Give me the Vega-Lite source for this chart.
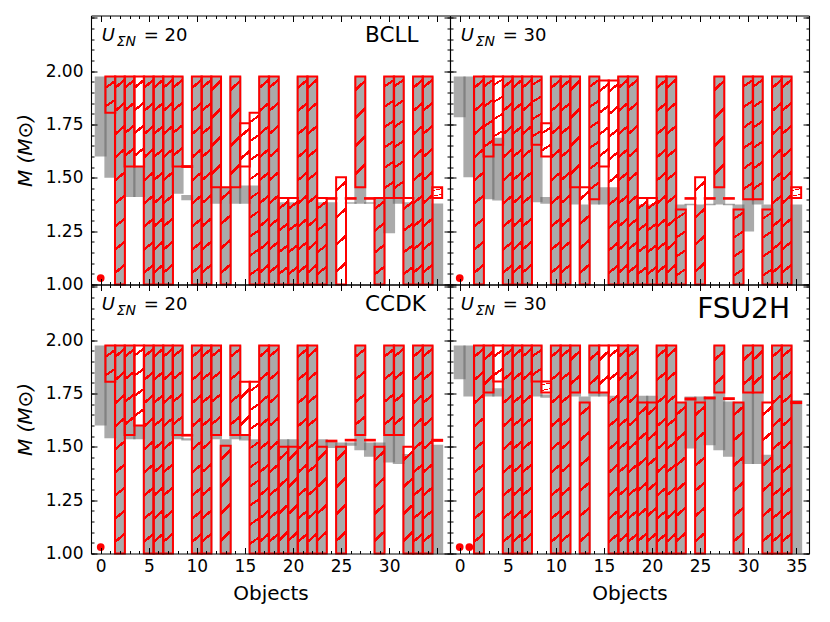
{
  "$schema": "https://vega.github.io/schema/vega-lite/v6.json",
  "padding": {"left": 15, "top": 14.5, "right": 10, "bottom": 5},
  "config": {
    "view": {"stroke": null},
    "axis": {"grid": false, "domainColor": "#000", "domainWidth": 1.1, "tickColor": "#000", "tickWidth": 1, "labelColor": "#000", "labelFont": "DejaVu Sans", "labelFontSize": 17, "titleColor": "#000", "titleFont": "DejaVu Sans", "titleFontSize": 20, "titleFontWeight": "normal"},
    "text": {"font": "DejaVu Sans", "color": "#000"}
  },
  "datasets": {
    "objects": [
      {"panel":"tl","obj":0,"glo":1.6,"ghi":1.975,"rlo":null,"rhi":null},
      {"panel":"tl","obj":1,"glo":1.5,"ghi":1.975,"rlo":1.805,"rhi":1.975},
      {"panel":"tl","obj":2,"glo":1.0,"ghi":1.975,"rlo":1.0,"rhi":1.975},
      {"panel":"tl","obj":3,"glo":1.41,"ghi":1.975,"rlo":1.553,"rhi":1.975},
      {"panel":"tl","obj":4,"glo":1.41,"ghi":1.553,"rlo":1.553,"rhi":1.975},
      {"panel":"tl","obj":5,"glo":1.0,"ghi":1.975,"rlo":1.0,"rhi":1.975},
      {"panel":"tl","obj":6,"glo":1.0,"ghi":1.975,"rlo":1.0,"rhi":1.975},
      {"panel":"tl","obj":7,"glo":1.0,"ghi":1.975,"rlo":1.0,"rhi":1.975},
      {"panel":"tl","obj":8,"glo":1.425,"ghi":1.975,"rlo":1.553,"rhi":1.975},
      {"panel":"tl","obj":9,"glo":1.395,"ghi":1.42,"rlo":1.551,"rhi":1.555},
      {"panel":"tl","obj":10,"glo":1.0,"ghi":1.975,"rlo":1.0,"rhi":1.975},
      {"panel":"tl","obj":11,"glo":1.0,"ghi":1.975,"rlo":1.0,"rhi":1.975},
      {"panel":"tl","obj":12,"glo":1.378,"ghi":1.975,"rlo":1.456,"rhi":1.975},
      {"panel":"tl","obj":13,"glo":1.0,"ghi":1.456,"rlo":1.0,"rhi":1.456},
      {"panel":"tl","obj":14,"glo":1.378,"ghi":1.975,"rlo":1.456,"rhi":1.975},
      {"panel":"tl","obj":15,"glo":1.378,"ghi":1.464,"rlo":1.553,"rhi":1.756},
      {"panel":"tl","obj":16,"glo":1.0,"ghi":1.464,"rlo":1.0,"rhi":1.805},
      {"panel":"tl","obj":17,"glo":1.0,"ghi":1.975,"rlo":1.0,"rhi":1.975},
      {"panel":"tl","obj":18,"glo":1.0,"ghi":1.975,"rlo":1.0,"rhi":1.975},
      {"panel":"tl","obj":19,"glo":1.0,"ghi":1.386,"rlo":1.0,"rhi":1.405},
      {"panel":"tl","obj":20,"glo":1.0,"ghi":1.386,"rlo":1.0,"rhi":1.405},
      {"panel":"tl","obj":21,"glo":1.0,"ghi":1.975,"rlo":1.0,"rhi":1.975},
      {"panel":"tl","obj":22,"glo":1.0,"ghi":1.975,"rlo":1.0,"rhi":1.975},
      {"panel":"tl","obj":23,"glo":1.0,"ghi":1.386,"rlo":1.0,"rhi":1.405},
      {"panel":"tl","obj":24,"glo":1.0,"ghi":1.386,"rlo":1.402,"rhi":1.405},
      {"panel":"tl","obj":25,"glo":null,"ghi":null,"rlo":1.0,"rhi":1.503},
      {"panel":"tl","obj":26,"glo":1.378,"ghi":1.386,"rlo":1.402,"rhi":1.405},
      {"panel":"tl","obj":27,"glo":1.378,"ghi":1.975,"rlo":1.456,"rhi":1.975},
      {"panel":"tl","obj":28,"glo":1.378,"ghi":1.386,"rlo":1.402,"rhi":1.405},
      {"panel":"tl","obj":29,"glo":1.0,"ghi":1.405,"rlo":1.0,"rhi":1.405},
      {"panel":"tl","obj":30,"glo":1.24,"ghi":1.975,"rlo":1.405,"rhi":1.975},
      {"panel":"tl","obj":31,"glo":1.378,"ghi":1.975,"rlo":1.405,"rhi":1.975},
      {"panel":"tl","obj":32,"glo":1.0,"ghi":1.386,"rlo":1.0,"rhi":1.405},
      {"panel":"tl","obj":33,"glo":1.0,"ghi":1.975,"rlo":1.0,"rhi":1.975},
      {"panel":"tl","obj":34,"glo":1.0,"ghi":1.975,"rlo":1.0,"rhi":1.975},
      {"panel":"tl","obj":35,"glo":1.0,"ghi":1.38,"rlo":1.405,"rhi":1.456},

      {"panel":"tr","obj":0,"glo":1.784,"ghi":1.975,"rlo":null,"rhi":null},
      {"panel":"tr","obj":1,"glo":1.503,"ghi":1.975,"rlo":null,"rhi":null},
      {"panel":"tr","obj":2,"glo":1.0,"ghi":1.975,"rlo":1.0,"rhi":1.975},
      {"panel":"tr","obj":3,"glo":1.4,"ghi":1.975,"rlo":1.6,"rhi":1.975},
      {"panel":"tr","obj":4,"glo":1.394,"ghi":1.688,"rlo":1.655,"rhi":1.975},
      {"panel":"tr","obj":5,"glo":1.0,"ghi":1.975,"rlo":1.0,"rhi":1.975},
      {"panel":"tr","obj":6,"glo":1.0,"ghi":1.975,"rlo":1.0,"rhi":1.975},
      {"panel":"tr","obj":7,"glo":1.0,"ghi":1.975,"rlo":1.0,"rhi":1.975},
      {"panel":"tr","obj":8,"glo":1.386,"ghi":1.975,"rlo":1.655,"rhi":1.975},
      {"panel":"tr","obj":9,"glo":1.378,"ghi":1.41,"rlo":1.6,"rhi":1.756},
      {"panel":"tr","obj":10,"glo":1.0,"ghi":1.975,"rlo":1.0,"rhi":1.975},
      {"panel":"tr","obj":11,"glo":1.0,"ghi":1.975,"rlo":1.0,"rhi":1.975},
      {"panel":"tr","obj":12,"glo":1.375,"ghi":1.975,"rlo":1.456,"rhi":1.975},
      {"panel":"tr","obj":13,"glo":1.0,"ghi":1.375,"rlo":1.0,"rhi":1.456},
      {"panel":"tr","obj":14,"glo":1.375,"ghi":1.975,"rlo":1.4,"rhi":1.975},
      {"panel":"tr","obj":15,"glo":1.375,"ghi":1.456,"rlo":1.553,"rhi":1.956},
      {"panel":"tr","obj":16,"glo":1.0,"ghi":1.456,"rlo":1.0,"rhi":1.956},
      {"panel":"tr","obj":17,"glo":1.0,"ghi":1.975,"rlo":1.0,"rhi":1.975},
      {"panel":"tr","obj":18,"glo":1.0,"ghi":1.975,"rlo":1.0,"rhi":1.975},
      {"panel":"tr","obj":19,"glo":1.0,"ghi":1.375,"rlo":1.0,"rhi":1.405},
      {"panel":"tr","obj":20,"glo":1.0,"ghi":1.375,"rlo":1.0,"rhi":1.405},
      {"panel":"tr","obj":21,"glo":1.0,"ghi":1.975,"rlo":1.0,"rhi":1.975},
      {"panel":"tr","obj":22,"glo":1.0,"ghi":1.975,"rlo":1.0,"rhi":1.975},
      {"panel":"tr","obj":23,"glo":1.0,"ghi":1.375,"rlo":1.0,"rhi":1.352},
      {"panel":"tr","obj":24,"glo":1.372,"ghi":1.378,"rlo":1.402,"rhi":1.405},
      {"panel":"tr","obj":25,"glo":1.0,"ghi":1.375,"rlo":1.0,"rhi":1.503},
      {"panel":"tr","obj":26,"glo":1.372,"ghi":1.378,"rlo":1.402,"rhi":1.405},
      {"panel":"tr","obj":27,"glo":1.375,"ghi":1.975,"rlo":1.456,"rhi":1.975},
      {"panel":"tr","obj":28,"glo":1.372,"ghi":1.378,"rlo":1.402,"rhi":1.405},
      {"panel":"tr","obj":29,"glo":1.0,"ghi":1.375,"rlo":1.0,"rhi":1.352},
      {"panel":"tr","obj":30,"glo":1.248,"ghi":1.975,"rlo":1.4,"rhi":1.975},
      {"panel":"tr","obj":31,"glo":1.375,"ghi":1.975,"rlo":1.4,"rhi":1.975},
      {"panel":"tr","obj":32,"glo":1.0,"ghi":1.375,"rlo":1.0,"rhi":1.352},
      {"panel":"tr","obj":33,"glo":1.0,"ghi":1.975,"rlo":1.0,"rhi":1.975},
      {"panel":"tr","obj":34,"glo":1.0,"ghi":1.975,"rlo":1.0,"rhi":1.975},
      {"panel":"tr","obj":35,"glo":1.0,"ghi":1.375,"rlo":1.405,"rhi":1.456},

      {"panel":"bl","obj":0,"glo":1.6,"ghi":1.975,"rlo":null,"rhi":null},
      {"panel":"bl","obj":1,"glo":1.54,"ghi":1.975,"rlo":1.805,"rhi":1.975},
      {"panel":"bl","obj":2,"glo":1.0,"ghi":1.975,"rlo":1.0,"rhi":1.975},
      {"panel":"bl","obj":3,"glo":1.535,"ghi":1.975,"rlo":1.555,"rhi":1.975},
      {"panel":"bl","obj":4,"glo":1.535,"ghi":1.6,"rlo":1.6,"rhi":1.975},
      {"panel":"bl","obj":5,"glo":1.0,"ghi":1.975,"rlo":1.0,"rhi":1.975},
      {"panel":"bl","obj":6,"glo":1.0,"ghi":1.975,"rlo":1.0,"rhi":1.975},
      {"panel":"bl","obj":7,"glo":1.0,"ghi":1.975,"rlo":1.0,"rhi":1.975},
      {"panel":"bl","obj":8,"glo":1.535,"ghi":1.975,"rlo":1.555,"rhi":1.975},
      {"panel":"bl","obj":9,"glo":1.53,"ghi":1.54,"rlo":1.553,"rhi":1.556},
      {"panel":"bl","obj":10,"glo":1.0,"ghi":1.975,"rlo":1.0,"rhi":1.975},
      {"panel":"bl","obj":11,"glo":1.0,"ghi":1.975,"rlo":1.0,"rhi":1.975},
      {"panel":"bl","obj":12,"glo":1.535,"ghi":1.975,"rlo":1.555,"rhi":1.975},
      {"panel":"bl","obj":13,"glo":1.0,"ghi":1.535,"rlo":1.0,"rhi":1.505},
      {"panel":"bl","obj":14,"glo":1.535,"ghi":1.975,"rlo":1.555,"rhi":1.975},
      {"panel":"bl","obj":15,"glo":1.53,"ghi":1.555,"rlo":1.555,"rhi":1.805},
      {"panel":"bl","obj":16,"glo":1.0,"ghi":1.535,"rlo":1.0,"rhi":1.805},
      {"panel":"bl","obj":17,"glo":1.0,"ghi":1.975,"rlo":1.0,"rhi":1.975},
      {"panel":"bl","obj":18,"glo":1.0,"ghi":1.975,"rlo":1.0,"rhi":1.975},
      {"panel":"bl","obj":19,"glo":1.0,"ghi":1.535,"rlo":1.0,"rhi":1.5},
      {"panel":"bl","obj":20,"glo":1.0,"ghi":1.535,"rlo":1.0,"rhi":1.5},
      {"panel":"bl","obj":21,"glo":1.0,"ghi":1.975,"rlo":1.0,"rhi":1.975},
      {"panel":"bl","obj":22,"glo":1.0,"ghi":1.975,"rlo":1.0,"rhi":1.975},
      {"panel":"bl","obj":23,"glo":1.0,"ghi":1.535,"rlo":1.0,"rhi":1.5},
      {"panel":"bl","obj":24,"glo":1.494,"ghi":1.525,"rlo":1.526,"rhi":1.529},
      {"panel":"bl","obj":25,"glo":1.0,"ghi":1.52,"rlo":1.0,"rhi":1.5},
      {"panel":"bl","obj":26,"glo":1.505,"ghi":1.52,"rlo":1.53,"rhi":1.533},
      {"panel":"bl","obj":27,"glo":1.484,"ghi":1.975,"rlo":1.555,"rhi":1.975},
      {"panel":"bl","obj":28,"glo":1.453,"ghi":1.52,"rlo":1.53,"rhi":1.533},
      {"panel":"bl","obj":29,"glo":1.0,"ghi":1.52,"rlo":1.0,"rhi":1.5},
      {"panel":"bl","obj":30,"glo":1.427,"ghi":1.975,"rlo":1.555,"rhi":1.975},
      {"panel":"bl","obj":31,"glo":1.42,"ghi":1.975,"rlo":1.555,"rhi":1.975},
      {"panel":"bl","obj":32,"glo":1.0,"ghi":1.466,"rlo":1.0,"rhi":1.5},
      {"panel":"bl","obj":33,"glo":1.0,"ghi":1.975,"rlo":1.0,"rhi":1.975},
      {"panel":"bl","obj":34,"glo":1.0,"ghi":1.975,"rlo":1.0,"rhi":1.975},
      {"panel":"bl","obj":35,"glo":1.0,"ghi":1.51,"rlo":1.528,"rhi":1.533},

      {"panel":"br","obj":0,"glo":1.817,"ghi":1.975,"rlo":null,"rhi":null},
      {"panel":"br","obj":1,"glo":1.736,"ghi":1.975,"rlo":null,"rhi":null},
      {"panel":"br","obj":2,"glo":1.0,"ghi":1.975,"rlo":1.0,"rhi":1.975},
      {"panel":"br","obj":3,"glo":1.736,"ghi":1.975,"rlo":1.755,"rhi":1.975},
      {"panel":"br","obj":4,"glo":1.736,"ghi":1.775,"rlo":1.806,"rhi":1.975},
      {"panel":"br","obj":5,"glo":1.0,"ghi":1.975,"rlo":1.0,"rhi":1.975},
      {"panel":"br","obj":6,"glo":1.0,"ghi":1.975,"rlo":1.0,"rhi":1.975},
      {"panel":"br","obj":7,"glo":1.0,"ghi":1.975,"rlo":1.0,"rhi":1.975},
      {"panel":"br","obj":8,"glo":1.736,"ghi":1.975,"rlo":1.806,"rhi":1.975},
      {"panel":"br","obj":9,"glo":1.73,"ghi":1.745,"rlo":1.755,"rhi":1.806},
      {"panel":"br","obj":10,"glo":1.0,"ghi":1.975,"rlo":1.0,"rhi":1.975},
      {"panel":"br","obj":11,"glo":1.0,"ghi":1.975,"rlo":1.0,"rhi":1.975},
      {"panel":"br","obj":12,"glo":1.736,"ghi":1.975,"rlo":1.755,"rhi":1.975},
      {"panel":"br","obj":13,"glo":1.0,"ghi":1.736,"rlo":1.0,"rhi":1.708},
      {"panel":"br","obj":14,"glo":1.736,"ghi":1.975,"rlo":1.755,"rhi":1.975},
      {"panel":"br","obj":15,"glo":1.736,"ghi":1.755,"rlo":1.755,"rhi":1.975},
      {"panel":"br","obj":16,"glo":1.0,"ghi":1.74,"rlo":1.0,"rhi":1.975},
      {"panel":"br","obj":17,"glo":1.0,"ghi":1.975,"rlo":1.0,"rhi":1.975},
      {"panel":"br","obj":18,"glo":1.0,"ghi":1.975,"rlo":1.0,"rhi":1.975},
      {"panel":"br","obj":19,"glo":1.0,"ghi":1.74,"rlo":1.0,"rhi":1.708},
      {"panel":"br","obj":20,"glo":1.0,"ghi":1.74,"rlo":1.0,"rhi":1.708},
      {"panel":"br","obj":21,"glo":1.0,"ghi":1.975,"rlo":1.0,"rhi":1.975},
      {"panel":"br","obj":22,"glo":1.0,"ghi":1.975,"rlo":1.0,"rhi":1.975},
      {"panel":"br","obj":23,"glo":1.0,"ghi":1.708,"rlo":1.0,"rhi":1.708},
      {"panel":"br","obj":24,"glo":1.492,"ghi":1.736,"rlo":1.722,"rhi":1.727},
      {"panel":"br","obj":25,"glo":1.0,"ghi":1.736,"rlo":1.0,"rhi":1.708},
      {"panel":"br","obj":26,"glo":1.508,"ghi":1.736,"rlo":1.727,"rhi":1.731},
      {"panel":"br","obj":27,"glo":1.484,"ghi":1.975,"rlo":1.755,"rhi":1.975},
      {"panel":"br","obj":28,"glo":1.453,"ghi":1.712,"rlo":1.724,"rhi":1.728},
      {"panel":"br","obj":29,"glo":1.0,"ghi":1.708,"rlo":1.0,"rhi":1.708},
      {"panel":"br","obj":30,"glo":1.42,"ghi":1.975,"rlo":1.755,"rhi":1.975},
      {"panel":"br","obj":31,"glo":1.42,"ghi":1.975,"rlo":1.755,"rhi":1.975},
      {"panel":"br","obj":32,"glo":1.0,"ghi":1.4625,"rlo":1.0,"rhi":1.708},
      {"panel":"br","obj":33,"glo":1.0,"ghi":1.975,"rlo":1.0,"rhi":1.975},
      {"panel":"br","obj":34,"glo":1.0,"ghi":1.975,"rlo":1.0,"rhi":1.975},
      {"panel":"br","obj":35,"glo":1.0,"ghi":1.72,"rlo":1.705,"rhi":1.71}
    ],
    "dots": [
      {"panel":"tl","obj":0,"m":1.03},
      {"panel":"tr","obj":0,"m":1.03},
      {"panel":"bl","obj":0,"m":1.03},
      {"panel":"br","obj":0,"m":1.03},
      {"panel":"br","obj":1,"m":1.03}
    ],
    "notes": [
      {"panel":"tl","u":"= 20","model":"BCLL"},
      {"panel":"tr","u":"= 30","model":""},
      {"panel":"bl","u":"= 20","model":"CCDK"},
      {"panel":"br","u":"= 30","model":"FSU2H"}
    ]
  },
  "columns": 2,
  "spacing": 0,
  "bounds": "flush",
  "concat": [
    {
      "width": 359, "height": 269,
      "data": {"name": "objects"},
      "transform": [{"filter": "datum.panel == 'tl'"}],
      "resolve": {"axis": {"x": "independent", "y": "independent"}},
      "layer": [
        {"transform": [{"filter": "datum.glo != null"}],
         "mark": {"type": "bar", "color": "#5f5f5f", "opacity": 0.53, "width": 11.9, "clip": true},
         "encoding": {
           "x": {"field": "obj", "type": "quantitative", "scale": {"domain": [-0.49, 35.81], "nice": false, "zero": false}, "axis": {"orient": "bottom", "values": [0,5,10,15,20,25,30,35], "tickSize": -6, "labels": false, "title": null, "zindex": 1}},
           "y": {"field": "glo", "type": "quantitative", "scale": {"domain": [1.0, 2.261], "nice": false, "zero": false}, "axis": {"orient": "left", "values": [1,1.25,1.5,1.75,2,2.25], "tickSize": -6, "labels": false, "title": null, "zindex": 1}},
           "y2": {"field": "ghi"}}},
        {"transform": [{"filter": "datum.rlo != null && datum.rhi - datum.rlo >= 0.75"}],
         "mark": {"type": "bar", "width": 9.88, "stroke": "#ff0000", "strokeWidth": 2, "fill": {"gradient": "linear", "x1": 0, "y1": 0, "x2": 0.04, "y2": 1, "stops": [{"offset":0,"color":"rgba(255,0,0,0)"},{"offset":0.0475,"color":"rgba(255,0,0,0)"},{"offset":0.0475,"color":"#ff0000"},{"offset":0.0625,"color":"#ff0000"},{"offset":0.0625,"color":"rgba(255,0,0,0)"},{"offset":0.1585,"color":"rgba(255,0,0,0)"},{"offset":0.1585,"color":"#ff0000"},{"offset":0.1735,"color":"#ff0000"},{"offset":0.1735,"color":"rgba(255,0,0,0)"},{"offset":0.2695,"color":"rgba(255,0,0,0)"},{"offset":0.2695,"color":"#ff0000"},{"offset":0.2845,"color":"#ff0000"},{"offset":0.2845,"color":"rgba(255,0,0,0)"},{"offset":0.3805,"color":"rgba(255,0,0,0)"},{"offset":0.3805,"color":"#ff0000"},{"offset":0.3955,"color":"#ff0000"},{"offset":0.3955,"color":"rgba(255,0,0,0)"},{"offset":0.4915,"color":"rgba(255,0,0,0)"},{"offset":0.4915,"color":"#ff0000"},{"offset":0.5065,"color":"#ff0000"},{"offset":0.5065,"color":"rgba(255,0,0,0)"},{"offset":0.6025,"color":"rgba(255,0,0,0)"},{"offset":0.6025,"color":"#ff0000"},{"offset":0.6175,"color":"#ff0000"},{"offset":0.6175,"color":"rgba(255,0,0,0)"},{"offset":0.7135,"color":"rgba(255,0,0,0)"},{"offset":0.7135,"color":"#ff0000"},{"offset":0.7285,"color":"#ff0000"},{"offset":0.7285,"color":"rgba(255,0,0,0)"},{"offset":0.8245,"color":"rgba(255,0,0,0)"},{"offset":0.8245,"color":"#ff0000"},{"offset":0.8395,"color":"#ff0000"},{"offset":0.8395,"color":"rgba(255,0,0,0)"},{"offset":0.9355,"color":"rgba(255,0,0,0)"},{"offset":0.9355,"color":"#ff0000"},{"offset":0.9505,"color":"#ff0000"},{"offset":0.9505,"color":"rgba(255,0,0,0)"},{"offset":1,"color":"rgba(255,0,0,0)"}]}},
         "encoding": {
           "x": {"field": "obj", "type": "quantitative", "scale": {"domain": [-0.49, 35.81], "nice": false, "zero": false}, "axis": {"orient": "bottom", "values": [0,1,2,3,4,5,6,7,8,9,10,11,12,13,14,15,16,17,18,19,20,21,22,23,24,25,26,27,28,29,30,31,32,33,34,35], "tickSize": -3, "labels": false, "domain": false, "title": null, "zindex": 1}},
           "y": {"field": "rlo", "type": "quantitative", "scale": {"domain": [1.0, 2.261], "nice": false, "zero": false}, "axis": {"orient": "left", "values": [1,1.05,1.1,1.15,1.2,1.25,1.3,1.35,1.4,1.45,1.5,1.55,1.6,1.65,1.7,1.75,1.8,1.85,1.9,1.95,2,2.05,2.1,2.15,2.2,2.25], "tickSize": -3, "labels": false, "domain": false, "title": null, "zindex": 1}},
           "y2": {"field": "rhi"}}},
        {"transform": [{"filter": "datum.rlo != null && datum.rhi - datum.rlo >= 0.55 && datum.rhi - datum.rlo < 0.75"}],
         "mark": {"type": "bar", "width": 9.88, "stroke": "#ff0000", "strokeWidth": 2, "fill": {"gradient": "linear", "x1": 0, "y1": 0, "x2": 0.056, "y2": 1, "stops": [{"offset":0,"color":"rgba(255,0,0,0)"},{"offset":0.072,"color":"rgba(255,0,0,0)"},{"offset":0.072,"color":"#ff0000"},{"offset":0.094,"color":"#ff0000"},{"offset":0.094,"color":"rgba(255,0,0,0)"},{"offset":0.239,"color":"rgba(255,0,0,0)"},{"offset":0.239,"color":"#ff0000"},{"offset":0.261,"color":"#ff0000"},{"offset":0.261,"color":"rgba(255,0,0,0)"},{"offset":0.406,"color":"rgba(255,0,0,0)"},{"offset":0.406,"color":"#ff0000"},{"offset":0.428,"color":"#ff0000"},{"offset":0.428,"color":"rgba(255,0,0,0)"},{"offset":0.572,"color":"rgba(255,0,0,0)"},{"offset":0.572,"color":"#ff0000"},{"offset":0.594,"color":"#ff0000"},{"offset":0.594,"color":"rgba(255,0,0,0)"},{"offset":0.739,"color":"rgba(255,0,0,0)"},{"offset":0.739,"color":"#ff0000"},{"offset":0.761,"color":"#ff0000"},{"offset":0.761,"color":"rgba(255,0,0,0)"},{"offset":0.906,"color":"rgba(255,0,0,0)"},{"offset":0.906,"color":"#ff0000"},{"offset":0.928,"color":"#ff0000"},{"offset":0.928,"color":"rgba(255,0,0,0)"},{"offset":1,"color":"rgba(255,0,0,0)"}]}},
         "encoding": {
           "x": {"field": "obj", "type": "quantitative", "scale": {"domain": [-0.49, 35.81], "nice": false, "zero": false}, "axis": null},
           "y": {"field": "rlo", "type": "quantitative", "scale": {"domain": [1.0, 2.261], "nice": false, "zero": false}, "axis": null},
           "y2": {"field": "rhi"}}},
        {"transform": [{"filter": "datum.rlo != null && datum.rhi - datum.rlo >= 0.3 && datum.rhi - datum.rlo < 0.55"}],
         "mark": {"type": "bar", "width": 9.88, "stroke": "#ff0000", "strokeWidth": 2, "fill": {"gradient": "linear", "x1": 0, "y1": 0, "x2": 0.088, "y2": 1, "stops": [{"offset":0,"color":"rgba(255,0,0,0)"},{"offset":0.108,"color":"rgba(255,0,0,0)"},{"offset":0.108,"color":"#ff0000"},{"offset":0.142,"color":"#ff0000"},{"offset":0.142,"color":"rgba(255,0,0,0)"},{"offset":0.358,"color":"rgba(255,0,0,0)"},{"offset":0.358,"color":"#ff0000"},{"offset":0.392,"color":"#ff0000"},{"offset":0.392,"color":"rgba(255,0,0,0)"},{"offset":0.608,"color":"rgba(255,0,0,0)"},{"offset":0.608,"color":"#ff0000"},{"offset":0.642,"color":"#ff0000"},{"offset":0.642,"color":"rgba(255,0,0,0)"},{"offset":0.858,"color":"rgba(255,0,0,0)"},{"offset":0.858,"color":"#ff0000"},{"offset":0.892,"color":"#ff0000"},{"offset":0.892,"color":"rgba(255,0,0,0)"},{"offset":1,"color":"rgba(255,0,0,0)"}]}},
         "encoding": {
           "x": {"field": "obj", "type": "quantitative", "scale": {"domain": [-0.49, 35.81], "nice": false, "zero": false}, "axis": {"orient": "top", "values": [0,5,10,15,20,25,30,35], "tickSize": -6, "labels": false, "title": null, "zindex": 1}},
           "y": {"field": "rlo", "type": "quantitative", "scale": {"domain": [1.0, 2.261], "nice": false, "zero": false}, "axis": {"orient": "right", "values": [1,1.25,1.5,1.75,2,2.25], "tickSize": -6, "labels": false, "title": null, "zindex": 1}},
           "y2": {"field": "rhi"}}},
        {"transform": [{"filter": "datum.rlo != null && datum.rhi - datum.rlo < 0.3"}],
         "mark": {"type": "bar", "width": 9.88, "stroke": "#ff0000", "strokeWidth": 2, "fill": {"gradient": "linear", "x1": 0, "y1": 0, "x2": 0.19, "y2": 1, "stops": [{"offset":0,"color":"rgba(255,0,0,0)"},{"offset":0.263,"color":"rgba(255,0,0,0)"},{"offset":0.263,"color":"#ff0000"},{"offset":0.337,"color":"#ff0000"},{"offset":0.337,"color":"rgba(255,0,0,0)"},{"offset":0.763,"color":"rgba(255,0,0,0)"},{"offset":0.763,"color":"#ff0000"},{"offset":0.837,"color":"#ff0000"},{"offset":0.837,"color":"rgba(255,0,0,0)"},{"offset":1,"color":"rgba(255,0,0,0)"}]}},
         "encoding": {
           "x": {"field": "obj", "type": "quantitative", "scale": {"domain": [-0.49, 35.81], "nice": false, "zero": false}, "axis": {"orient": "top", "values": [0,1,2,3,4,5,6,7,8,9,10,11,12,13,14,15,16,17,18,19,20,21,22,23,24,25,26,27,28,29,30,31,32,33,34,35], "tickSize": -3, "labels": false, "domain": false, "title": null, "zindex": 1}},
           "y": {"field": "rlo", "type": "quantitative", "scale": {"domain": [1.0, 2.261], "nice": false, "zero": false}, "axis": {"orient": "right", "values": [1,1.05,1.1,1.15,1.2,1.25,1.3,1.35,1.4,1.45,1.5,1.55,1.6,1.65,1.7,1.75,1.8,1.85,1.9,1.95,2,2.05,2.1,2.15,2.2,2.25], "tickSize": -3, "labels": false, "domain": false, "title": null, "zindex": 1}},
           "y2": {"field": "rhi"}}},
        {"data": {"name": "dots"},
         "transform": [{"filter": "datum.panel == 'tl'"}],
         "mark": {"type": "point", "filled": true, "color": "#ff0000", "opacity": 1, "size": 60},
         "encoding": {
           "x": {"field": "obj", "type": "quantitative", "scale": {"domain": [-0.49, 35.81], "nice": false, "zero": false}, "axis": null},
           "y": {"field": "m", "type": "quantitative", "scale": {"domain": [1.0, 2.261], "nice": false, "zero": false}, "axis": {"orient": "left", "values": [1,1.25,1.5,1.75,2], "format": ".2f", "ticks": false, "domain": false, "labelPadding": 8, "labelFlush": false, "labelOverlap": false, "title": "M (M⊙)", "titlePadding": 10, "titleFontStyle": "italic"}}}},
        {"data": {"name": "notes"},
         "transform": [{"filter": "datum.panel == 'tl'"}],
         "mark": {"type": "text", "text": "U", "fontStyle": "italic", "fontSize": 18, "align": "left", "baseline": "alphabetic"},
         "encoding": {"x": {"datum": 0.1, "type": "quantitative", "axis": null}, "y": {"datum": 2.14, "type": "quantitative", "axis": null}}},
        {"data": {"name": "notes"},
         "transform": [{"filter": "datum.panel == 'tl'"}],
         "mark": {"type": "text", "text": "ΣN", "fontStyle": "italic", "fontSize": 14, "align": "left", "baseline": "alphabetic", "dx": 15, "dy": 5},
         "encoding": {"x": {"datum": 0.1, "type": "quantitative", "axis": null}, "y": {"datum": 2.14, "type": "quantitative", "axis": null}}},
        {"data": {"name": "notes"},
         "transform": [{"filter": "datum.panel == 'tl'"}],
         "mark": {"type": "text", "fontSize": 18, "align": "left", "baseline": "alphabetic", "dx": 42},
         "encoding": {"x": {"datum": 0.1, "type": "quantitative", "axis": null}, "y": {"datum": 2.14, "type": "quantitative", "axis": null}, "text": {"field": "u"}}},
        {"data": {"name": "notes"},
         "transform": [{"filter": "datum.panel == 'tl'"}],
         "mark": {"type": "text", "fontSize": 21.5, "align": "left", "baseline": "alphabetic"},
         "encoding": {"x": {"datum": 27.5, "type": "quantitative", "axis": null}, "y": {"datum": 2.139, "type": "quantitative", "axis": null}, "text": {"field": "model"}}}
      ]
    },
    {
      "width": 359, "height": 269,
      "data": {"name": "objects"},
      "transform": [{"filter": "datum.panel == 'tr'"}],
      "resolve": {"axis": {"x": "independent", "y": "independent"}},
      "layer": [
        {"transform": [{"filter": "datum.glo != null"}],
         "mark": {"type": "bar", "color": "#5f5f5f", "opacity": 0.53, "width": 11.9, "clip": true},
         "encoding": {
           "x": {"field": "obj", "type": "quantitative", "scale": {"domain": [-0.49, 35.81], "nice": false, "zero": false}, "axis": {"orient": "bottom", "values": [0,5,10,15,20,25,30,35], "tickSize": -6, "labels": false, "title": null, "zindex": 1}},
           "y": {"field": "glo", "type": "quantitative", "scale": {"domain": [1.0, 2.261], "nice": false, "zero": false}, "axis": {"orient": "left", "values": [1,1.25,1.5,1.75,2,2.25], "tickSize": -6, "labels": false, "title": null, "zindex": 1}},
           "y2": {"field": "ghi"}}},
        {"transform": [{"filter": "datum.rlo != null && datum.rhi - datum.rlo >= 0.75"}],
         "mark": {"type": "bar", "width": 9.88, "stroke": "#ff0000", "strokeWidth": 2, "fill": {"gradient": "linear", "x1": 0, "y1": 0, "x2": 0.04, "y2": 1, "stops": [{"offset":0,"color":"rgba(255,0,0,0)"},{"offset":0.0475,"color":"rgba(255,0,0,0)"},{"offset":0.0475,"color":"#ff0000"},{"offset":0.0625,"color":"#ff0000"},{"offset":0.0625,"color":"rgba(255,0,0,0)"},{"offset":0.1585,"color":"rgba(255,0,0,0)"},{"offset":0.1585,"color":"#ff0000"},{"offset":0.1735,"color":"#ff0000"},{"offset":0.1735,"color":"rgba(255,0,0,0)"},{"offset":0.2695,"color":"rgba(255,0,0,0)"},{"offset":0.2695,"color":"#ff0000"},{"offset":0.2845,"color":"#ff0000"},{"offset":0.2845,"color":"rgba(255,0,0,0)"},{"offset":0.3805,"color":"rgba(255,0,0,0)"},{"offset":0.3805,"color":"#ff0000"},{"offset":0.3955,"color":"#ff0000"},{"offset":0.3955,"color":"rgba(255,0,0,0)"},{"offset":0.4915,"color":"rgba(255,0,0,0)"},{"offset":0.4915,"color":"#ff0000"},{"offset":0.5065,"color":"#ff0000"},{"offset":0.5065,"color":"rgba(255,0,0,0)"},{"offset":0.6025,"color":"rgba(255,0,0,0)"},{"offset":0.6025,"color":"#ff0000"},{"offset":0.6175,"color":"#ff0000"},{"offset":0.6175,"color":"rgba(255,0,0,0)"},{"offset":0.7135,"color":"rgba(255,0,0,0)"},{"offset":0.7135,"color":"#ff0000"},{"offset":0.7285,"color":"#ff0000"},{"offset":0.7285,"color":"rgba(255,0,0,0)"},{"offset":0.8245,"color":"rgba(255,0,0,0)"},{"offset":0.8245,"color":"#ff0000"},{"offset":0.8395,"color":"#ff0000"},{"offset":0.8395,"color":"rgba(255,0,0,0)"},{"offset":0.9355,"color":"rgba(255,0,0,0)"},{"offset":0.9355,"color":"#ff0000"},{"offset":0.9505,"color":"#ff0000"},{"offset":0.9505,"color":"rgba(255,0,0,0)"},{"offset":1,"color":"rgba(255,0,0,0)"}]}},
         "encoding": {
           "x": {"field": "obj", "type": "quantitative", "scale": {"domain": [-0.49, 35.81], "nice": false, "zero": false}, "axis": {"orient": "bottom", "values": [0,1,2,3,4,5,6,7,8,9,10,11,12,13,14,15,16,17,18,19,20,21,22,23,24,25,26,27,28,29,30,31,32,33,34,35], "tickSize": -3, "labels": false, "domain": false, "title": null, "zindex": 1}},
           "y": {"field": "rlo", "type": "quantitative", "scale": {"domain": [1.0, 2.261], "nice": false, "zero": false}, "axis": {"orient": "left", "values": [1,1.05,1.1,1.15,1.2,1.25,1.3,1.35,1.4,1.45,1.5,1.55,1.6,1.65,1.7,1.75,1.8,1.85,1.9,1.95,2,2.05,2.1,2.15,2.2,2.25], "tickSize": -3, "labels": false, "domain": false, "title": null, "zindex": 1}},
           "y2": {"field": "rhi"}}},
        {"transform": [{"filter": "datum.rlo != null && datum.rhi - datum.rlo >= 0.55 && datum.rhi - datum.rlo < 0.75"}],
         "mark": {"type": "bar", "width": 9.88, "stroke": "#ff0000", "strokeWidth": 2, "fill": {"gradient": "linear", "x1": 0, "y1": 0, "x2": 0.056, "y2": 1, "stops": [{"offset":0,"color":"rgba(255,0,0,0)"},{"offset":0.072,"color":"rgba(255,0,0,0)"},{"offset":0.072,"color":"#ff0000"},{"offset":0.094,"color":"#ff0000"},{"offset":0.094,"color":"rgba(255,0,0,0)"},{"offset":0.239,"color":"rgba(255,0,0,0)"},{"offset":0.239,"color":"#ff0000"},{"offset":0.261,"color":"#ff0000"},{"offset":0.261,"color":"rgba(255,0,0,0)"},{"offset":0.406,"color":"rgba(255,0,0,0)"},{"offset":0.406,"color":"#ff0000"},{"offset":0.428,"color":"#ff0000"},{"offset":0.428,"color":"rgba(255,0,0,0)"},{"offset":0.572,"color":"rgba(255,0,0,0)"},{"offset":0.572,"color":"#ff0000"},{"offset":0.594,"color":"#ff0000"},{"offset":0.594,"color":"rgba(255,0,0,0)"},{"offset":0.739,"color":"rgba(255,0,0,0)"},{"offset":0.739,"color":"#ff0000"},{"offset":0.761,"color":"#ff0000"},{"offset":0.761,"color":"rgba(255,0,0,0)"},{"offset":0.906,"color":"rgba(255,0,0,0)"},{"offset":0.906,"color":"#ff0000"},{"offset":0.928,"color":"#ff0000"},{"offset":0.928,"color":"rgba(255,0,0,0)"},{"offset":1,"color":"rgba(255,0,0,0)"}]}},
         "encoding": {
           "x": {"field": "obj", "type": "quantitative", "scale": {"domain": [-0.49, 35.81], "nice": false, "zero": false}, "axis": null},
           "y": {"field": "rlo", "type": "quantitative", "scale": {"domain": [1.0, 2.261], "nice": false, "zero": false}, "axis": null},
           "y2": {"field": "rhi"}}},
        {"transform": [{"filter": "datum.rlo != null && datum.rhi - datum.rlo >= 0.3 && datum.rhi - datum.rlo < 0.55"}],
         "mark": {"type": "bar", "width": 9.88, "stroke": "#ff0000", "strokeWidth": 2, "fill": {"gradient": "linear", "x1": 0, "y1": 0, "x2": 0.088, "y2": 1, "stops": [{"offset":0,"color":"rgba(255,0,0,0)"},{"offset":0.108,"color":"rgba(255,0,0,0)"},{"offset":0.108,"color":"#ff0000"},{"offset":0.142,"color":"#ff0000"},{"offset":0.142,"color":"rgba(255,0,0,0)"},{"offset":0.358,"color":"rgba(255,0,0,0)"},{"offset":0.358,"color":"#ff0000"},{"offset":0.392,"color":"#ff0000"},{"offset":0.392,"color":"rgba(255,0,0,0)"},{"offset":0.608,"color":"rgba(255,0,0,0)"},{"offset":0.608,"color":"#ff0000"},{"offset":0.642,"color":"#ff0000"},{"offset":0.642,"color":"rgba(255,0,0,0)"},{"offset":0.858,"color":"rgba(255,0,0,0)"},{"offset":0.858,"color":"#ff0000"},{"offset":0.892,"color":"#ff0000"},{"offset":0.892,"color":"rgba(255,0,0,0)"},{"offset":1,"color":"rgba(255,0,0,0)"}]}},
         "encoding": {
           "x": {"field": "obj", "type": "quantitative", "scale": {"domain": [-0.49, 35.81], "nice": false, "zero": false}, "axis": {"orient": "top", "values": [0,5,10,15,20,25,30,35], "tickSize": -6, "labels": false, "title": null, "zindex": 1}},
           "y": {"field": "rlo", "type": "quantitative", "scale": {"domain": [1.0, 2.261], "nice": false, "zero": false}, "axis": {"orient": "right", "values": [1,1.25,1.5,1.75,2,2.25], "tickSize": -6, "labels": false, "title": null, "zindex": 1}},
           "y2": {"field": "rhi"}}},
        {"transform": [{"filter": "datum.rlo != null && datum.rhi - datum.rlo < 0.3"}],
         "mark": {"type": "bar", "width": 9.88, "stroke": "#ff0000", "strokeWidth": 2, "fill": {"gradient": "linear", "x1": 0, "y1": 0, "x2": 0.19, "y2": 1, "stops": [{"offset":0,"color":"rgba(255,0,0,0)"},{"offset":0.263,"color":"rgba(255,0,0,0)"},{"offset":0.263,"color":"#ff0000"},{"offset":0.337,"color":"#ff0000"},{"offset":0.337,"color":"rgba(255,0,0,0)"},{"offset":0.763,"color":"rgba(255,0,0,0)"},{"offset":0.763,"color":"#ff0000"},{"offset":0.837,"color":"#ff0000"},{"offset":0.837,"color":"rgba(255,0,0,0)"},{"offset":1,"color":"rgba(255,0,0,0)"}]}},
         "encoding": {
           "x": {"field": "obj", "type": "quantitative", "scale": {"domain": [-0.49, 35.81], "nice": false, "zero": false}, "axis": {"orient": "top", "values": [0,1,2,3,4,5,6,7,8,9,10,11,12,13,14,15,16,17,18,19,20,21,22,23,24,25,26,27,28,29,30,31,32,33,34,35], "tickSize": -3, "labels": false, "domain": false, "title": null, "zindex": 1}},
           "y": {"field": "rlo", "type": "quantitative", "scale": {"domain": [1.0, 2.261], "nice": false, "zero": false}, "axis": {"orient": "right", "values": [1,1.05,1.1,1.15,1.2,1.25,1.3,1.35,1.4,1.45,1.5,1.55,1.6,1.65,1.7,1.75,1.8,1.85,1.9,1.95,2,2.05,2.1,2.15,2.2,2.25], "tickSize": -3, "labels": false, "domain": false, "title": null, "zindex": 1}},
           "y2": {"field": "rhi"}}},
        {"data": {"name": "dots"},
         "transform": [{"filter": "datum.panel == 'tr'"}],
         "mark": {"type": "point", "filled": true, "color": "#ff0000", "opacity": 1, "size": 60},
         "encoding": {
           "x": {"field": "obj", "type": "quantitative", "scale": {"domain": [-0.49, 35.81], "nice": false, "zero": false}, "axis": null},
           "y": {"field": "m", "type": "quantitative", "scale": {"domain": [1.0, 2.261], "nice": false, "zero": false}, "axis": null}}},
        {"data": {"name": "notes"},
         "transform": [{"filter": "datum.panel == 'tr'"}],
         "mark": {"type": "text", "text": "U", "fontStyle": "italic", "fontSize": 18, "align": "left", "baseline": "alphabetic"},
         "encoding": {"x": {"datum": 0.1, "type": "quantitative", "axis": null}, "y": {"datum": 2.14, "type": "quantitative", "axis": null}}},
        {"data": {"name": "notes"},
         "transform": [{"filter": "datum.panel == 'tr'"}],
         "mark": {"type": "text", "text": "ΣN", "fontStyle": "italic", "fontSize": 14, "align": "left", "baseline": "alphabetic", "dx": 15, "dy": 5},
         "encoding": {"x": {"datum": 0.1, "type": "quantitative", "axis": null}, "y": {"datum": 2.14, "type": "quantitative", "axis": null}}},
        {"data": {"name": "notes"},
         "transform": [{"filter": "datum.panel == 'tr'"}],
         "mark": {"type": "text", "fontSize": 18, "align": "left", "baseline": "alphabetic", "dx": 42},
         "encoding": {"x": {"datum": 0.1, "type": "quantitative", "axis": null}, "y": {"datum": 2.14, "type": "quantitative", "axis": null}, "text": {"field": "u"}}}
      ]
    },
    {
      "width": 359, "height": 269,
      "data": {"name": "objects"},
      "transform": [{"filter": "datum.panel == 'bl'"}],
      "resolve": {"axis": {"x": "independent", "y": "independent"}},
      "layer": [
        {"transform": [{"filter": "datum.glo != null"}],
         "mark": {"type": "bar", "color": "#5f5f5f", "opacity": 0.53, "width": 11.9, "clip": true},
         "encoding": {
           "x": {"field": "obj", "type": "quantitative", "scale": {"domain": [-0.49, 35.81], "nice": false, "zero": false}, "axis": {"orient": "bottom", "values": [0,5,10,15,20,25,30,35], "tickSize": -6, "labels": false, "title": null, "zindex": 1}},
           "y": {"field": "glo", "type": "quantitative", "scale": {"domain": [1.0, 2.261], "nice": false, "zero": false}, "axis": {"orient": "left", "values": [1,1.25,1.5,1.75,2,2.25], "tickSize": -6, "labels": false, "title": null, "zindex": 1}},
           "y2": {"field": "ghi"}}},
        {"transform": [{"filter": "datum.rlo != null && datum.rhi - datum.rlo >= 0.75"}],
         "mark": {"type": "bar", "width": 9.88, "stroke": "#ff0000", "strokeWidth": 2, "fill": {"gradient": "linear", "x1": 0, "y1": 0, "x2": 0.04, "y2": 1, "stops": [{"offset":0,"color":"rgba(255,0,0,0)"},{"offset":0.0475,"color":"rgba(255,0,0,0)"},{"offset":0.0475,"color":"#ff0000"},{"offset":0.0625,"color":"#ff0000"},{"offset":0.0625,"color":"rgba(255,0,0,0)"},{"offset":0.1585,"color":"rgba(255,0,0,0)"},{"offset":0.1585,"color":"#ff0000"},{"offset":0.1735,"color":"#ff0000"},{"offset":0.1735,"color":"rgba(255,0,0,0)"},{"offset":0.2695,"color":"rgba(255,0,0,0)"},{"offset":0.2695,"color":"#ff0000"},{"offset":0.2845,"color":"#ff0000"},{"offset":0.2845,"color":"rgba(255,0,0,0)"},{"offset":0.3805,"color":"rgba(255,0,0,0)"},{"offset":0.3805,"color":"#ff0000"},{"offset":0.3955,"color":"#ff0000"},{"offset":0.3955,"color":"rgba(255,0,0,0)"},{"offset":0.4915,"color":"rgba(255,0,0,0)"},{"offset":0.4915,"color":"#ff0000"},{"offset":0.5065,"color":"#ff0000"},{"offset":0.5065,"color":"rgba(255,0,0,0)"},{"offset":0.6025,"color":"rgba(255,0,0,0)"},{"offset":0.6025,"color":"#ff0000"},{"offset":0.6175,"color":"#ff0000"},{"offset":0.6175,"color":"rgba(255,0,0,0)"},{"offset":0.7135,"color":"rgba(255,0,0,0)"},{"offset":0.7135,"color":"#ff0000"},{"offset":0.7285,"color":"#ff0000"},{"offset":0.7285,"color":"rgba(255,0,0,0)"},{"offset":0.8245,"color":"rgba(255,0,0,0)"},{"offset":0.8245,"color":"#ff0000"},{"offset":0.8395,"color":"#ff0000"},{"offset":0.8395,"color":"rgba(255,0,0,0)"},{"offset":0.9355,"color":"rgba(255,0,0,0)"},{"offset":0.9355,"color":"#ff0000"},{"offset":0.9505,"color":"#ff0000"},{"offset":0.9505,"color":"rgba(255,0,0,0)"},{"offset":1,"color":"rgba(255,0,0,0)"}]}},
         "encoding": {
           "x": {"field": "obj", "type": "quantitative", "scale": {"domain": [-0.49, 35.81], "nice": false, "zero": false}, "axis": {"orient": "bottom", "values": [0,1,2,3,4,5,6,7,8,9,10,11,12,13,14,15,16,17,18,19,20,21,22,23,24,25,26,27,28,29,30,31,32,33,34,35], "tickSize": -3, "labels": false, "domain": false, "title": null, "zindex": 1}},
           "y": {"field": "rlo", "type": "quantitative", "scale": {"domain": [1.0, 2.261], "nice": false, "zero": false}, "axis": {"orient": "left", "values": [1,1.05,1.1,1.15,1.2,1.25,1.3,1.35,1.4,1.45,1.5,1.55,1.6,1.65,1.7,1.75,1.8,1.85,1.9,1.95,2,2.05,2.1,2.15,2.2,2.25], "tickSize": -3, "labels": false, "domain": false, "title": null, "zindex": 1}},
           "y2": {"field": "rhi"}}},
        {"transform": [{"filter": "datum.rlo != null && datum.rhi - datum.rlo >= 0.55 && datum.rhi - datum.rlo < 0.75"}],
         "mark": {"type": "bar", "width": 9.88, "stroke": "#ff0000", "strokeWidth": 2, "fill": {"gradient": "linear", "x1": 0, "y1": 0, "x2": 0.056, "y2": 1, "stops": [{"offset":0,"color":"rgba(255,0,0,0)"},{"offset":0.072,"color":"rgba(255,0,0,0)"},{"offset":0.072,"color":"#ff0000"},{"offset":0.094,"color":"#ff0000"},{"offset":0.094,"color":"rgba(255,0,0,0)"},{"offset":0.239,"color":"rgba(255,0,0,0)"},{"offset":0.239,"color":"#ff0000"},{"offset":0.261,"color":"#ff0000"},{"offset":0.261,"color":"rgba(255,0,0,0)"},{"offset":0.406,"color":"rgba(255,0,0,0)"},{"offset":0.406,"color":"#ff0000"},{"offset":0.428,"color":"#ff0000"},{"offset":0.428,"color":"rgba(255,0,0,0)"},{"offset":0.572,"color":"rgba(255,0,0,0)"},{"offset":0.572,"color":"#ff0000"},{"offset":0.594,"color":"#ff0000"},{"offset":0.594,"color":"rgba(255,0,0,0)"},{"offset":0.739,"color":"rgba(255,0,0,0)"},{"offset":0.739,"color":"#ff0000"},{"offset":0.761,"color":"#ff0000"},{"offset":0.761,"color":"rgba(255,0,0,0)"},{"offset":0.906,"color":"rgba(255,0,0,0)"},{"offset":0.906,"color":"#ff0000"},{"offset":0.928,"color":"#ff0000"},{"offset":0.928,"color":"rgba(255,0,0,0)"},{"offset":1,"color":"rgba(255,0,0,0)"}]}},
         "encoding": {
           "x": {"field": "obj", "type": "quantitative", "scale": {"domain": [-0.49, 35.81], "nice": false, "zero": false}, "axis": null},
           "y": {"field": "rlo", "type": "quantitative", "scale": {"domain": [1.0, 2.261], "nice": false, "zero": false}, "axis": null},
           "y2": {"field": "rhi"}}},
        {"transform": [{"filter": "datum.rlo != null && datum.rhi - datum.rlo >= 0.3 && datum.rhi - datum.rlo < 0.55"}],
         "mark": {"type": "bar", "width": 9.88, "stroke": "#ff0000", "strokeWidth": 2, "fill": {"gradient": "linear", "x1": 0, "y1": 0, "x2": 0.088, "y2": 1, "stops": [{"offset":0,"color":"rgba(255,0,0,0)"},{"offset":0.108,"color":"rgba(255,0,0,0)"},{"offset":0.108,"color":"#ff0000"},{"offset":0.142,"color":"#ff0000"},{"offset":0.142,"color":"rgba(255,0,0,0)"},{"offset":0.358,"color":"rgba(255,0,0,0)"},{"offset":0.358,"color":"#ff0000"},{"offset":0.392,"color":"#ff0000"},{"offset":0.392,"color":"rgba(255,0,0,0)"},{"offset":0.608,"color":"rgba(255,0,0,0)"},{"offset":0.608,"color":"#ff0000"},{"offset":0.642,"color":"#ff0000"},{"offset":0.642,"color":"rgba(255,0,0,0)"},{"offset":0.858,"color":"rgba(255,0,0,0)"},{"offset":0.858,"color":"#ff0000"},{"offset":0.892,"color":"#ff0000"},{"offset":0.892,"color":"rgba(255,0,0,0)"},{"offset":1,"color":"rgba(255,0,0,0)"}]}},
         "encoding": {
           "x": {"field": "obj", "type": "quantitative", "scale": {"domain": [-0.49, 35.81], "nice": false, "zero": false}, "axis": {"orient": "top", "values": [0,5,10,15,20,25,30,35], "tickSize": -6, "labels": false, "title": null, "zindex": 1}},
           "y": {"field": "rlo", "type": "quantitative", "scale": {"domain": [1.0, 2.261], "nice": false, "zero": false}, "axis": {"orient": "right", "values": [1,1.25,1.5,1.75,2,2.25], "tickSize": -6, "labels": false, "title": null, "zindex": 1}},
           "y2": {"field": "rhi"}}},
        {"transform": [{"filter": "datum.rlo != null && datum.rhi - datum.rlo < 0.3"}],
         "mark": {"type": "bar", "width": 9.88, "stroke": "#ff0000", "strokeWidth": 2, "fill": {"gradient": "linear", "x1": 0, "y1": 0, "x2": 0.19, "y2": 1, "stops": [{"offset":0,"color":"rgba(255,0,0,0)"},{"offset":0.263,"color":"rgba(255,0,0,0)"},{"offset":0.263,"color":"#ff0000"},{"offset":0.337,"color":"#ff0000"},{"offset":0.337,"color":"rgba(255,0,0,0)"},{"offset":0.763,"color":"rgba(255,0,0,0)"},{"offset":0.763,"color":"#ff0000"},{"offset":0.837,"color":"#ff0000"},{"offset":0.837,"color":"rgba(255,0,0,0)"},{"offset":1,"color":"rgba(255,0,0,0)"}]}},
         "encoding": {
           "x": {"field": "obj", "type": "quantitative", "scale": {"domain": [-0.49, 35.81], "nice": false, "zero": false}, "axis": {"orient": "top", "values": [0,1,2,3,4,5,6,7,8,9,10,11,12,13,14,15,16,17,18,19,20,21,22,23,24,25,26,27,28,29,30,31,32,33,34,35], "tickSize": -3, "labels": false, "domain": false, "title": null, "zindex": 1}},
           "y": {"field": "rlo", "type": "quantitative", "scale": {"domain": [1.0, 2.261], "nice": false, "zero": false}, "axis": {"orient": "right", "values": [1,1.05,1.1,1.15,1.2,1.25,1.3,1.35,1.4,1.45,1.5,1.55,1.6,1.65,1.7,1.75,1.8,1.85,1.9,1.95,2,2.05,2.1,2.15,2.2,2.25], "tickSize": -3, "labels": false, "domain": false, "title": null, "zindex": 1}},
           "y2": {"field": "rhi"}}},
        {"data": {"name": "dots"},
         "transform": [{"filter": "datum.panel == 'bl'"}],
         "mark": {"type": "point", "filled": true, "color": "#ff0000", "opacity": 1, "size": 60},
         "encoding": {
           "x": {"field": "obj", "type": "quantitative", "scale": {"domain": [-0.49, 35.81], "nice": false, "zero": false}, "axis": {"orient": "bottom", "values": [0,5,10,15,20,25,30], "ticks": false, "domain": false, "labelPadding": 5, "labelFlush": false, "labelOverlap": false, "title": "Objects", "titlePadding": 9}},
           "y": {"field": "m", "type": "quantitative", "scale": {"domain": [1.0, 2.261], "nice": false, "zero": false}, "axis": {"orient": "left", "values": [1,1.25,1.5,1.75,2], "format": ".2f", "ticks": false, "domain": false, "labelPadding": 8, "labelFlush": false, "labelOverlap": false, "title": "M (M⊙)", "titlePadding": 10, "titleFontStyle": "italic"}}}},
        {"data": {"name": "notes"},
         "transform": [{"filter": "datum.panel == 'bl'"}],
         "mark": {"type": "text", "text": "U", "fontStyle": "italic", "fontSize": 18, "align": "left", "baseline": "alphabetic"},
         "encoding": {"x": {"datum": 0.1, "type": "quantitative", "axis": null}, "y": {"datum": 2.14, "type": "quantitative", "axis": null}}},
        {"data": {"name": "notes"},
         "transform": [{"filter": "datum.panel == 'bl'"}],
         "mark": {"type": "text", "text": "ΣN", "fontStyle": "italic", "fontSize": 14, "align": "left", "baseline": "alphabetic", "dx": 15, "dy": 5},
         "encoding": {"x": {"datum": 0.1, "type": "quantitative", "axis": null}, "y": {"datum": 2.14, "type": "quantitative", "axis": null}}},
        {"data": {"name": "notes"},
         "transform": [{"filter": "datum.panel == 'bl'"}],
         "mark": {"type": "text", "fontSize": 18, "align": "left", "baseline": "alphabetic", "dx": 42},
         "encoding": {"x": {"datum": 0.1, "type": "quantitative", "axis": null}, "y": {"datum": 2.14, "type": "quantitative", "axis": null}, "text": {"field": "u"}}},
        {"data": {"name": "notes"},
         "transform": [{"filter": "datum.panel == 'bl'"}],
         "mark": {"type": "text", "fontSize": 21.5, "align": "left", "baseline": "alphabetic"},
         "encoding": {"x": {"datum": 27.5, "type": "quantitative", "axis": null}, "y": {"datum": 2.139, "type": "quantitative", "axis": null}, "text": {"field": "model"}}}
      ]
    },
    {
      "width": 359, "height": 269,
      "data": {"name": "objects"},
      "transform": [{"filter": "datum.panel == 'br'"}],
      "resolve": {"axis": {"x": "independent", "y": "independent"}},
      "layer": [
        {"transform": [{"filter": "datum.glo != null"}],
         "mark": {"type": "bar", "color": "#5f5f5f", "opacity": 0.53, "width": 11.9, "clip": true},
         "encoding": {
           "x": {"field": "obj", "type": "quantitative", "scale": {"domain": [-0.49, 35.81], "nice": false, "zero": false}, "axis": {"orient": "bottom", "values": [0,5,10,15,20,25,30,35], "tickSize": -6, "labels": false, "title": null, "zindex": 1}},
           "y": {"field": "glo", "type": "quantitative", "scale": {"domain": [1.0, 2.261], "nice": false, "zero": false}, "axis": {"orient": "left", "values": [1,1.25,1.5,1.75,2,2.25], "tickSize": -6, "labels": false, "title": null, "zindex": 1}},
           "y2": {"field": "ghi"}}},
        {"transform": [{"filter": "datum.rlo != null && datum.rhi - datum.rlo >= 0.75"}],
         "mark": {"type": "bar", "width": 9.88, "stroke": "#ff0000", "strokeWidth": 2, "fill": {"gradient": "linear", "x1": 0, "y1": 0, "x2": 0.04, "y2": 1, "stops": [{"offset":0,"color":"rgba(255,0,0,0)"},{"offset":0.0475,"color":"rgba(255,0,0,0)"},{"offset":0.0475,"color":"#ff0000"},{"offset":0.0625,"color":"#ff0000"},{"offset":0.0625,"color":"rgba(255,0,0,0)"},{"offset":0.1585,"color":"rgba(255,0,0,0)"},{"offset":0.1585,"color":"#ff0000"},{"offset":0.1735,"color":"#ff0000"},{"offset":0.1735,"color":"rgba(255,0,0,0)"},{"offset":0.2695,"color":"rgba(255,0,0,0)"},{"offset":0.2695,"color":"#ff0000"},{"offset":0.2845,"color":"#ff0000"},{"offset":0.2845,"color":"rgba(255,0,0,0)"},{"offset":0.3805,"color":"rgba(255,0,0,0)"},{"offset":0.3805,"color":"#ff0000"},{"offset":0.3955,"color":"#ff0000"},{"offset":0.3955,"color":"rgba(255,0,0,0)"},{"offset":0.4915,"color":"rgba(255,0,0,0)"},{"offset":0.4915,"color":"#ff0000"},{"offset":0.5065,"color":"#ff0000"},{"offset":0.5065,"color":"rgba(255,0,0,0)"},{"offset":0.6025,"color":"rgba(255,0,0,0)"},{"offset":0.6025,"color":"#ff0000"},{"offset":0.6175,"color":"#ff0000"},{"offset":0.6175,"color":"rgba(255,0,0,0)"},{"offset":0.7135,"color":"rgba(255,0,0,0)"},{"offset":0.7135,"color":"#ff0000"},{"offset":0.7285,"color":"#ff0000"},{"offset":0.7285,"color":"rgba(255,0,0,0)"},{"offset":0.8245,"color":"rgba(255,0,0,0)"},{"offset":0.8245,"color":"#ff0000"},{"offset":0.8395,"color":"#ff0000"},{"offset":0.8395,"color":"rgba(255,0,0,0)"},{"offset":0.9355,"color":"rgba(255,0,0,0)"},{"offset":0.9355,"color":"#ff0000"},{"offset":0.9505,"color":"#ff0000"},{"offset":0.9505,"color":"rgba(255,0,0,0)"},{"offset":1,"color":"rgba(255,0,0,0)"}]}},
         "encoding": {
           "x": {"field": "obj", "type": "quantitative", "scale": {"domain": [-0.49, 35.81], "nice": false, "zero": false}, "axis": {"orient": "bottom", "values": [0,1,2,3,4,5,6,7,8,9,10,11,12,13,14,15,16,17,18,19,20,21,22,23,24,25,26,27,28,29,30,31,32,33,34,35], "tickSize": -3, "labels": false, "domain": false, "title": null, "zindex": 1}},
           "y": {"field": "rlo", "type": "quantitative", "scale": {"domain": [1.0, 2.261], "nice": false, "zero": false}, "axis": {"orient": "left", "values": [1,1.05,1.1,1.15,1.2,1.25,1.3,1.35,1.4,1.45,1.5,1.55,1.6,1.65,1.7,1.75,1.8,1.85,1.9,1.95,2,2.05,2.1,2.15,2.2,2.25], "tickSize": -3, "labels": false, "domain": false, "title": null, "zindex": 1}},
           "y2": {"field": "rhi"}}},
        {"transform": [{"filter": "datum.rlo != null && datum.rhi - datum.rlo >= 0.55 && datum.rhi - datum.rlo < 0.75"}],
         "mark": {"type": "bar", "width": 9.88, "stroke": "#ff0000", "strokeWidth": 2, "fill": {"gradient": "linear", "x1": 0, "y1": 0, "x2": 0.056, "y2": 1, "stops": [{"offset":0,"color":"rgba(255,0,0,0)"},{"offset":0.072,"color":"rgba(255,0,0,0)"},{"offset":0.072,"color":"#ff0000"},{"offset":0.094,"color":"#ff0000"},{"offset":0.094,"color":"rgba(255,0,0,0)"},{"offset":0.239,"color":"rgba(255,0,0,0)"},{"offset":0.239,"color":"#ff0000"},{"offset":0.261,"color":"#ff0000"},{"offset":0.261,"color":"rgba(255,0,0,0)"},{"offset":0.406,"color":"rgba(255,0,0,0)"},{"offset":0.406,"color":"#ff0000"},{"offset":0.428,"color":"#ff0000"},{"offset":0.428,"color":"rgba(255,0,0,0)"},{"offset":0.572,"color":"rgba(255,0,0,0)"},{"offset":0.572,"color":"#ff0000"},{"offset":0.594,"color":"#ff0000"},{"offset":0.594,"color":"rgba(255,0,0,0)"},{"offset":0.739,"color":"rgba(255,0,0,0)"},{"offset":0.739,"color":"#ff0000"},{"offset":0.761,"color":"#ff0000"},{"offset":0.761,"color":"rgba(255,0,0,0)"},{"offset":0.906,"color":"rgba(255,0,0,0)"},{"offset":0.906,"color":"#ff0000"},{"offset":0.928,"color":"#ff0000"},{"offset":0.928,"color":"rgba(255,0,0,0)"},{"offset":1,"color":"rgba(255,0,0,0)"}]}},
         "encoding": {
           "x": {"field": "obj", "type": "quantitative", "scale": {"domain": [-0.49, 35.81], "nice": false, "zero": false}, "axis": null},
           "y": {"field": "rlo", "type": "quantitative", "scale": {"domain": [1.0, 2.261], "nice": false, "zero": false}, "axis": null},
           "y2": {"field": "rhi"}}},
        {"transform": [{"filter": "datum.rlo != null && datum.rhi - datum.rlo >= 0.3 && datum.rhi - datum.rlo < 0.55"}],
         "mark": {"type": "bar", "width": 9.88, "stroke": "#ff0000", "strokeWidth": 2, "fill": {"gradient": "linear", "x1": 0, "y1": 0, "x2": 0.088, "y2": 1, "stops": [{"offset":0,"color":"rgba(255,0,0,0)"},{"offset":0.108,"color":"rgba(255,0,0,0)"},{"offset":0.108,"color":"#ff0000"},{"offset":0.142,"color":"#ff0000"},{"offset":0.142,"color":"rgba(255,0,0,0)"},{"offset":0.358,"color":"rgba(255,0,0,0)"},{"offset":0.358,"color":"#ff0000"},{"offset":0.392,"color":"#ff0000"},{"offset":0.392,"color":"rgba(255,0,0,0)"},{"offset":0.608,"color":"rgba(255,0,0,0)"},{"offset":0.608,"color":"#ff0000"},{"offset":0.642,"color":"#ff0000"},{"offset":0.642,"color":"rgba(255,0,0,0)"},{"offset":0.858,"color":"rgba(255,0,0,0)"},{"offset":0.858,"color":"#ff0000"},{"offset":0.892,"color":"#ff0000"},{"offset":0.892,"color":"rgba(255,0,0,0)"},{"offset":1,"color":"rgba(255,0,0,0)"}]}},
         "encoding": {
           "x": {"field": "obj", "type": "quantitative", "scale": {"domain": [-0.49, 35.81], "nice": false, "zero": false}, "axis": {"orient": "top", "values": [0,5,10,15,20,25,30,35], "tickSize": -6, "labels": false, "title": null, "zindex": 1}},
           "y": {"field": "rlo", "type": "quantitative", "scale": {"domain": [1.0, 2.261], "nice": false, "zero": false}, "axis": {"orient": "right", "values": [1,1.25,1.5,1.75,2,2.25], "tickSize": -6, "labels": false, "title": null, "zindex": 1}},
           "y2": {"field": "rhi"}}},
        {"transform": [{"filter": "datum.rlo != null && datum.rhi - datum.rlo < 0.3"}],
         "mark": {"type": "bar", "width": 9.88, "stroke": "#ff0000", "strokeWidth": 2, "fill": {"gradient": "linear", "x1": 0, "y1": 0, "x2": 0.19, "y2": 1, "stops": [{"offset":0,"color":"rgba(255,0,0,0)"},{"offset":0.263,"color":"rgba(255,0,0,0)"},{"offset":0.263,"color":"#ff0000"},{"offset":0.337,"color":"#ff0000"},{"offset":0.337,"color":"rgba(255,0,0,0)"},{"offset":0.763,"color":"rgba(255,0,0,0)"},{"offset":0.763,"color":"#ff0000"},{"offset":0.837,"color":"#ff0000"},{"offset":0.837,"color":"rgba(255,0,0,0)"},{"offset":1,"color":"rgba(255,0,0,0)"}]}},
         "encoding": {
           "x": {"field": "obj", "type": "quantitative", "scale": {"domain": [-0.49, 35.81], "nice": false, "zero": false}, "axis": {"orient": "top", "values": [0,1,2,3,4,5,6,7,8,9,10,11,12,13,14,15,16,17,18,19,20,21,22,23,24,25,26,27,28,29,30,31,32,33,34,35], "tickSize": -3, "labels": false, "domain": false, "title": null, "zindex": 1}},
           "y": {"field": "rlo", "type": "quantitative", "scale": {"domain": [1.0, 2.261], "nice": false, "zero": false}, "axis": {"orient": "right", "values": [1,1.05,1.1,1.15,1.2,1.25,1.3,1.35,1.4,1.45,1.5,1.55,1.6,1.65,1.7,1.75,1.8,1.85,1.9,1.95,2,2.05,2.1,2.15,2.2,2.25], "tickSize": -3, "labels": false, "domain": false, "title": null, "zindex": 1}},
           "y2": {"field": "rhi"}}},
        {"data": {"name": "dots"},
         "transform": [{"filter": "datum.panel == 'br'"}],
         "mark": {"type": "point", "filled": true, "color": "#ff0000", "opacity": 1, "size": 60},
         "encoding": {
           "x": {"field": "obj", "type": "quantitative", "scale": {"domain": [-0.49, 35.81], "nice": false, "zero": false}, "axis": {"orient": "bottom", "values": [0,5,10,15,20,25,30,35], "ticks": false, "domain": false, "labelPadding": 5, "labelFlush": false, "labelOverlap": false, "title": "Objects", "titlePadding": 9}},
           "y": {"field": "m", "type": "quantitative", "scale": {"domain": [1.0, 2.261], "nice": false, "zero": false}, "axis": null}}},
        {"data": {"name": "notes"},
         "transform": [{"filter": "datum.panel == 'br'"}],
         "mark": {"type": "text", "text": "U", "fontStyle": "italic", "fontSize": 18, "align": "left", "baseline": "alphabetic"},
         "encoding": {"x": {"datum": 0.1, "type": "quantitative", "axis": null}, "y": {"datum": 2.14, "type": "quantitative", "axis": null}}},
        {"data": {"name": "notes"},
         "transform": [{"filter": "datum.panel == 'br'"}],
         "mark": {"type": "text", "text": "ΣN", "fontStyle": "italic", "fontSize": 14, "align": "left", "baseline": "alphabetic", "dx": 15, "dy": 5},
         "encoding": {"x": {"datum": 0.1, "type": "quantitative", "axis": null}, "y": {"datum": 2.14, "type": "quantitative", "axis": null}}},
        {"data": {"name": "notes"},
         "transform": [{"filter": "datum.panel == 'br'"}],
         "mark": {"type": "text", "fontSize": 18, "align": "left", "baseline": "alphabetic", "dx": 42},
         "encoding": {"x": {"datum": 0.1, "type": "quantitative", "axis": null}, "y": {"datum": 2.14, "type": "quantitative", "axis": null}, "text": {"field": "u"}}},
        {"data": {"name": "notes"},
         "transform": [{"filter": "datum.panel == 'br'"}],
         "mark": {"type": "text", "fontSize": 28, "align": "left", "baseline": "alphabetic"},
         "encoding": {"x": {"datum": 24.7, "type": "quantitative", "axis": null}, "y": {"datum": 2.106, "type": "quantitative", "axis": null}, "text": {"field": "model"}}}
      ]
    }
  ]
}
